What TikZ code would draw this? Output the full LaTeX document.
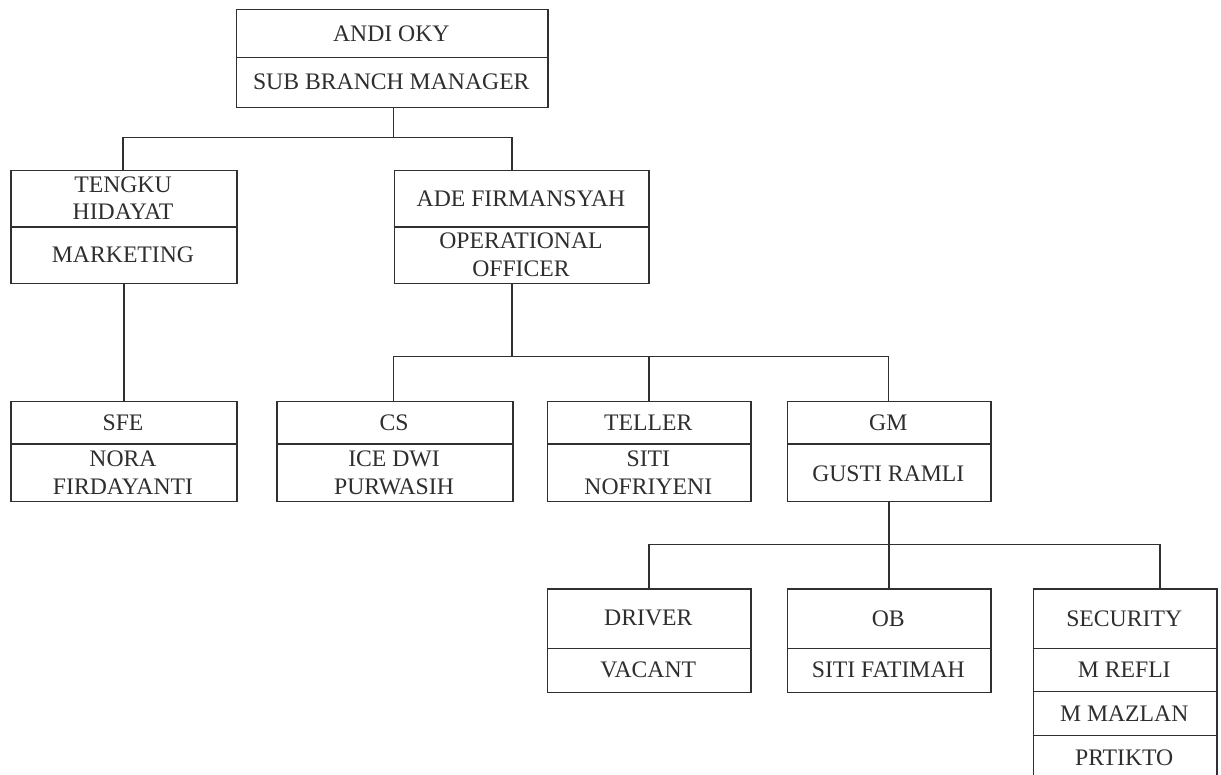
\documentclass[tikz,border=0pt]{standalone}
\usepackage{fontspec}
\setmainfont{Liberation Serif}
\definecolor{ink}{HTML}{303030}
\definecolor{txt}{HTML}{2E2E2E}
\begin{document}
\begin{tikzpicture}[x=1pt,y=-1pt,
  orgbox/.style={draw=ink, line width=1.5pt, inner sep=0pt, anchor=north west},
  lbl/.style={text=txt, font=\fontsize{23.7}{27.3}\selectfont, align=center, inner sep=0pt},
  conn/.style={draw=ink, line width=1.5pt},
  divline/.style={draw=ink, line width=1.5pt}]
\useasboundingbox (0,0) rectangle (1221,775);
\clip (0,0) rectangle (1221,775);

% ---------- boxes ----------
\node[orgbox, minimum width=311.4pt, minimum height=97.7pt] (top) at (235.6,9) {};
\node[orgbox, minimum width=226pt, minimum height=112.7pt] (tengku) at (10,170) {};
\node[orgbox, minimum width=254.6pt, minimum height=112.7pt] (ade) at (393.7,170) {};
\node[orgbox, minimum width=226pt, minimum height=100pt] (sfe) at (10,400.7) {};
\node[orgbox, minimum width=236pt, minimum height=100pt] (cs) at (276,400.7) {};
\node[orgbox, minimum width=203.3pt, minimum height=100pt] (teller) at (546.7,400.7) {};
\node[orgbox, minimum width=203.3pt, minimum height=100pt] (gm) at (786.7,400.7) {};
\node[orgbox, minimum width=203.8pt, minimum height=103.4pt] (driver) at (546.5,588.3) {};
\node[orgbox, minimum width=203.8pt, minimum height=103.4pt] (ob) at (786.5,588.3) {};
\node[orgbox, minimum width=183.5pt, minimum height=195pt] (sec) at (1032.5,588.3) {};

% ---------- dividers ----------
\draw[divline] ([yshift=-48.7pt]top.north west) -- ([yshift=-48.7pt]top.north east);
\draw[divline] ([yshift=-57pt]tengku.north west) -- ([yshift=-57pt]tengku.north east);
\draw[divline] ([yshift=-57pt]ade.north west) -- ([yshift=-57pt]ade.north east);
\foreach \b in {sfe,cs,teller,gm}{
  \draw[divline] ([yshift=-43.3pt]\b.north west) -- ([yshift=-43.3pt]\b.north east);
}
\foreach \b in {driver,ob,sec}{
  \draw[divline] ([yshift=-60pt]\b.north west) -- ([yshift=-60pt]\b.north east);
}
\draw[divline] ([yshift=-103.4pt]sec.north west) -- ([yshift=-103.4pt]sec.north east);
\draw[divline] ([yshift=-147pt]sec.north west) -- ([yshift=-147pt]sec.north east);

% ---------- texts ----------
\node[lbl] (topA) at (391.3,33.4) {ANDI OKY};
\node[lbl] (topB) at (391.3,82.2) {SUB BRANCH MANAGER};
\node[lbl] (tengkuA) at (123,198.5) {TENGKU\\HIDAYAT};
\node[lbl] (tengkuB) at (123,254.8) {MARKETING};
\node[lbl] (adeA) at (521,198.5) {ADE FIRMANSYAH};
\node[lbl] (adeB) at (521,254.8) {OPERATIONAL\\OFFICER};
\node[lbl] (sfeA) at (123,422.3) {SFE};
\node[lbl] (sfeB) at (123,472.8) {NORA\\FIRDAYANTI};
\node[lbl] (csA) at (394,422.3) {CS};
\node[lbl] (csB) at (394,472.8) {ICE DWI\\PURWASIH};
\node[lbl] (tellerA) at (648.3,422.3) {TELLER};
\node[lbl] (tellerB) at (648.3,472.8) {SITI\\NOFRIYENI};
\node[lbl] (gmA) at (888.3,422.3) {GM};
\node[lbl] (gmB) at (888.3,473.5) {GUSTI RAMLI};
\node[lbl] (driverA) at (648.3,618.3) {DRIVER};
\node[lbl] (driverB) at (648.3,670) {VACANT};
\node[lbl] (obA) at (888.3,618.3) {OB};
\node[lbl] (obB) at (888.3,670) {SITI FATIMAH};
\node[lbl] (secA) at (1124.2,618.3) {SECURITY};
\node[lbl] (secB) at (1124.2,670) {M REFLI};
\node[lbl] (secC) at (1124.2,713.8) {M MAZLAN};
\node[lbl] (secD) at (1124.2,757.8) {PRTIKTO};

% ---------- connectors ----------
\coordinate (b1) at (393.7,137.3);
\coordinate (b1L) at (123,137.3);
\coordinate (b1R) at (512,137.3);
\draw[conn] (top.south -| b1) -- (b1);
\draw[conn] (tengku.north -| b1L) -- (b1L) -- (b1R) -- (ade.north -| b1R);
\draw[conn] (tengku.south) -- (sfe.north);

\coordinate (b2) at (512,356.7);
\coordinate (b2L) at (393.3,356.7);
\coordinate (b2R) at (888.3,356.7);
\draw[conn] (ade.south -| b2) -- (b2);
\draw[conn] (cs.north -| b2L) -- (b2L) -- (b2R) -- (gm.north -| b2R);
\draw[conn] (teller.north) -- (teller.north |- b2);

\coordinate (b3) at (888.3,544.3);
\coordinate (b3R) at (1160,544.3);
\draw[conn] (gm.south) -- (gm.south |- b3);
\draw[conn] (driver.north) -- (driver.north |- b3) -- (b3R) -- (sec.north -| b3R);
\draw[conn] (ob.north) -- (ob.north |- b3);
\end{tikzpicture}
\end{document}
